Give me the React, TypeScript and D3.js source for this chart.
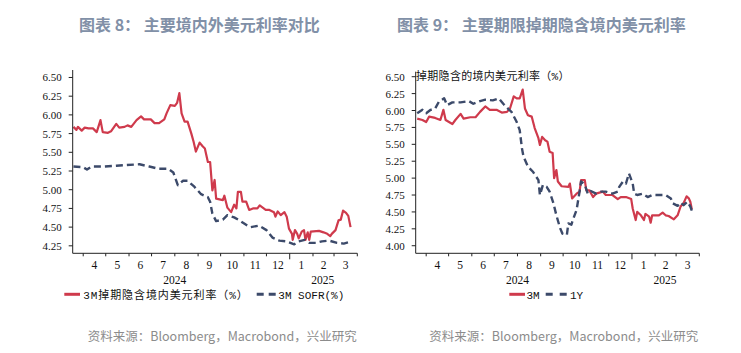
import React from 'react';
import * as d3 from 'd3';

const W = 741;
const H = 353;

const monthLabels = ['4', '5', '6', '7', '8', '9', '10', '11', '12', '1', '2', '3'];
const yearLabels: [string, string][] = [['2024', '2024-08-01'], ['2025', '2025-02-14']];
const leftTicks = [4.25, 4.5, 4.75, 5.0, 5.25, 5.5, 5.75, 6.0, 6.25, 6.5];
const rightTicks = [4.0, 4.25, 4.5, 4.75, 5.0, 5.25, 5.5, 5.75, 6.0, 6.25, 6.5];

// 3M swap-implied onshore USD rate (left chart)
const onshore3M: [string, number][] = [
  ['2024-03-19', 5.84], ['2024-03-23', 5.8], ['2024-03-25', 5.84], ['2024-03-30', 5.79], ['2024-04-03', 5.83],
  ['2024-04-08', 5.82], ['2024-04-14', 5.82], ['2024-04-19', 5.77], ['2024-04-24', 5.93], ['2024-04-27', 5.77],
  ['2024-05-04', 5.76], ['2024-05-08', 5.78], ['2024-05-15', 5.88], ['2024-05-19', 5.83], ['2024-05-26', 5.84],
  ['2024-05-30', 5.86], ['2024-06-04', 5.84], ['2024-06-11', 5.93], ['2024-06-17', 5.98], ['2024-06-21', 5.94],
  ['2024-06-30', 5.94], ['2024-07-05', 5.89], ['2024-07-11', 5.89], ['2024-07-18', 5.94], ['2024-07-21', 6.02],
  ['2024-07-26', 6.13], ['2024-08-01', 6.12], ['2024-08-04', 6.16], ['2024-08-07', 6.29], ['2024-08-10', 6.02],
  ['2024-08-14', 5.91], ['2024-08-18', 5.91], ['2024-08-23', 5.75], ['2024-08-26', 5.64], ['2024-08-29', 5.51],
  ['2024-09-03', 5.63], ['2024-09-07', 5.58], ['2024-09-10', 5.55], ['2024-09-14', 5.37], ['2024-09-17', 5.37],
  ['2024-09-20', 4.99], ['2024-09-23', 5.13], ['2024-09-25', 4.88], ['2024-10-04', 4.86], ['2024-10-06', 4.92],
  ['2024-10-10', 4.76], ['2024-10-15', 4.7], ['2024-10-19', 4.8], ['2024-10-22', 4.75], ['2024-10-24', 4.97],
  ['2024-10-28', 4.97], ['2024-10-30', 4.84], ['2024-11-04', 4.84], ['2024-11-08', 4.73], ['2024-11-13', 4.75],
  ['2024-11-19', 4.75], ['2024-11-22', 4.79], ['2024-11-26', 4.76], ['2024-11-30', 4.73], ['2024-12-05', 4.73],
  ['2024-12-11', 4.7], ['2024-12-13', 4.64], ['2024-12-16', 4.71], ['2024-12-20', 4.66], ['2024-12-25', 4.7],
  ['2024-12-28', 4.64], ['2024-12-31', 4.48], ['2025-01-04', 4.41], ['2025-01-05', 4.33], ['2025-01-08', 4.46],
  ['2025-01-11', 4.41], ['2025-01-13', 4.35], ['2025-01-17', 4.44], ['2025-01-20', 4.46], ['2025-01-22', 4.33],
  ['2025-01-25', 4.43], ['2025-01-27', 4.33], ['2025-01-29', 4.44], ['2025-02-09', 4.45], ['2025-02-15', 4.43],
  ['2025-02-20', 4.41], ['2025-02-24', 4.38], ['2025-02-26', 4.41], ['2025-03-03', 4.46], ['2025-03-07', 4.59],
  ['2025-03-10', 4.6], ['2025-03-13', 4.72], ['2025-03-17', 4.69], ['2025-03-20', 4.65], ['2025-03-23', 4.5],
];

// 3M SOFR (left chart)
const sofr3M: [string, number][] = [
  ['2024-03-19', 5.31], ['2024-04-01', 5.3], ['2024-04-06', 5.27], ['2024-04-12', 5.31], ['2024-04-28', 5.31],
  ['2024-05-15', 5.32], ['2024-05-29', 5.33], ['2024-06-15', 5.34], ['2024-06-28', 5.31], ['2024-07-10', 5.28],
  ['2024-07-23', 5.28], ['2024-07-30', 5.23], ['2024-08-05', 5.06], ['2024-08-12', 5.12], ['2024-08-18', 5.12],
  ['2024-08-27', 5.04], ['2024-09-05', 4.94], ['2024-09-14', 4.9], ['2024-09-17', 4.84], ['2024-09-20', 4.68],
  ['2024-09-25', 4.58], ['2024-10-04', 4.6], ['2024-10-10', 4.66], ['2024-10-19', 4.63], ['2024-10-26', 4.59],
  ['2024-11-04', 4.53], ['2024-11-10', 4.5], ['2024-11-21', 4.52], ['2024-12-01', 4.46], ['2024-12-09', 4.36],
  ['2024-12-18', 4.32], ['2024-12-27', 4.31], ['2025-01-07', 4.27], ['2025-01-13', 4.31], ['2025-01-21', 4.33],
  ['2025-01-27', 4.29], ['2025-02-05', 4.29], ['2025-02-13', 4.31], ['2025-02-22', 4.32], ['2025-03-05', 4.29],
  ['2025-03-14', 4.28], ['2025-03-21', 4.3],
];

// Swap-implied onshore USD rate, 3M (right chart)
const swap3M: [string, number][] = [
  ['2024-03-20', 5.88], ['2024-03-27', 5.86], ['2024-04-01', 5.83], ['2024-04-05', 5.91], ['2024-04-13', 5.89],
  ['2024-04-20', 5.86], ['2024-04-24', 6.01], ['2024-04-27', 5.86], ['2024-05-06', 5.8], ['2024-05-10', 5.86],
  ['2024-05-17', 5.95], ['2024-05-21', 5.88], ['2024-05-30', 5.9], ['2024-06-06', 5.9], ['2024-06-12', 5.98],
  ['2024-06-19', 6.06], ['2024-06-25', 6.01], ['2024-07-04', 6.01], ['2024-07-11', 5.97], ['2024-07-18', 5.98],
  ['2024-07-22', 6.03], ['2024-07-27', 6.21], ['2024-07-31', 6.18], ['2024-08-04', 6.18], ['2024-08-08', 6.31],
  ['2024-08-11', 6.03], ['2024-08-15', 5.93], ['2024-08-20', 5.91], ['2024-08-24', 5.74], ['2024-08-29', 5.59],
  ['2024-08-31', 5.49], ['2024-09-03', 5.61], ['2024-09-07', 5.56], ['2024-09-10', 5.54], ['2024-09-13', 5.39],
  ['2024-09-17', 5.37], ['2024-09-19', 5.0], ['2024-09-22', 5.12], ['2024-09-24', 4.95], ['2024-09-29', 4.88],
  ['2024-10-08', 4.87], ['2024-10-10', 4.92], ['2024-10-13', 4.7], ['2024-10-19', 4.77], ['2024-10-23', 4.8],
  ['2024-10-25', 4.97], ['2024-10-30', 4.97], ['2024-11-01', 4.82], ['2024-11-05', 4.82], ['2024-11-10', 4.72],
  ['2024-11-14', 4.77], ['2024-11-23', 4.8], ['2024-11-27', 4.75], ['2024-12-06', 4.75], ['2024-12-13', 4.69],
  ['2024-12-17', 4.72], ['2024-12-24', 4.72], ['2024-12-31', 4.69], ['2025-01-02', 4.55], ['2025-01-06', 4.38],
  ['2025-01-08', 4.5], ['2025-01-13', 4.45], ['2025-01-17', 4.38], ['2025-01-19', 4.47], ['2025-01-24', 4.43],
  ['2025-01-26', 4.34], ['2025-01-28', 4.45], ['2025-02-06', 4.45], ['2025-02-11', 4.49], ['2025-02-15', 4.45],
  ['2025-02-19', 4.44], ['2025-02-26', 4.39], ['2025-03-03', 4.45], ['2025-03-07', 4.58], ['2025-03-11', 4.63],
  ['2025-03-15', 4.73], ['2025-03-18', 4.7], ['2025-03-20', 4.65], ['2025-03-22', 4.54],
];

// Swap-implied onshore USD rate, 1Y (right chart)
const swap1Y: [string, number][] = [
  ['2024-03-20', 5.96], ['2024-03-27', 6.01], ['2024-04-01', 5.96], ['2024-04-07', 6.01], ['2024-04-13', 6.03],
  ['2024-04-18', 6.13], ['2024-04-25', 6.18], ['2024-04-29', 6.08], ['2024-05-06', 6.12], ['2024-05-17', 6.12],
  ['2024-05-28', 6.14], ['2024-06-03', 6.1], ['2024-06-12', 6.14], ['2024-06-19', 6.16], ['2024-06-29', 6.15],
  ['2024-07-07', 6.18], ['2024-07-13', 6.1], ['2024-07-20', 6.02], ['2024-07-24', 5.98], ['2024-07-31', 5.83],
  ['2024-08-04', 5.71], ['2024-08-07', 5.44], ['2024-08-09', 5.32], ['2024-08-15', 5.17], ['2024-08-22', 5.09],
  ['2024-08-29', 4.97], ['2024-08-31', 4.75], ['2024-09-04', 4.9], ['2024-09-09', 4.87], ['2024-09-13', 4.8],
  ['2024-09-18', 4.63], ['2024-09-22', 4.45], ['2024-09-27', 4.26], ['2024-09-30', 4.18], ['2024-10-06', 4.16],
  ['2024-10-08', 4.33], ['2024-10-12', 4.31], ['2024-10-14', 4.38], ['2024-10-19', 4.53], ['2024-10-23', 4.8],
  ['2024-10-25', 4.95], ['2024-10-30', 4.9], ['2024-11-03', 4.77], ['2024-11-07', 4.81], ['2024-11-14', 4.77],
  ['2024-11-21', 4.8], ['2024-11-27', 4.8], ['2024-12-06', 4.77], ['2024-12-13', 4.8], ['2024-12-15', 4.87],
  ['2024-12-20', 4.95], ['2024-12-24', 4.92], ['2024-12-28', 5.07], ['2025-01-02', 4.92], ['2025-01-04', 4.77],
  ['2025-01-08', 4.75], ['2025-01-15', 4.77], ['2025-01-22', 4.72], ['2025-01-28', 4.75], ['2025-02-06', 4.75],
  ['2025-02-15', 4.75], ['2025-02-22', 4.7], ['2025-02-24', 4.63], ['2025-03-03', 4.59], ['2025-03-07', 4.64],
  ['2025-03-11', 4.6], ['2025-03-16', 4.65], ['2025-03-20', 4.58], ['2025-03-22', 4.52],
];

const RED = '#cf3a4c';
const NAVY = '#3c4a6a';
const TITLE = '#8190a7';
const SERIF = "'Liberation Serif', 'Times New Roman', serif";
const MONO = "'Liberation Mono', 'Noto Sans CJK SC', monospace";
const CJK = "'Noto Sans CJK SC', sans-serif";

const parse = d3.timeParse('%Y-%m-%d');
const domainStart = new Date(2024, 2, 18);
const domainEnd = new Date(2025, 3, 1);

type Series = { data: [string, number][]; color: string; dash?: string; width: number };

type PanelProps = {
  x0: number;
  x1: number;
  yTop: number;
  yBottom: number;
  yDomain: [number, number];
  ticks: number[];
  series: Series[];
};

function Panel({ x0, x1, yTop, yBottom, yDomain, ticks, series }: PanelProps) {
  const x = d3.scaleTime().domain([domainStart, domainEnd]).range([x0, x1]);
  const y = d3.scaleLinear().domain(yDomain).range([yBottom, yTop]);
  const bounds = d3.timeMonth.range(new Date(2024, 3, 1), new Date(2025, 3, 2));
  const line = d3
    .line<[string, number]>()
    .x((d) => x(parse(d[0]) as Date))
    .y((d) => y(d[1]));
  return (
    <g>
      {series.map((s, i) => (
        <path
          key={i}
          d={line(s.data) || ''}
          fill="none"
          stroke={s.color}
          strokeWidth={s.width}
          strokeDasharray={s.dash}
          strokeLinejoin="round"
        />
      ))}
      <line x1={x0} x2={x0} y1={yTop} y2={yBottom} stroke="#222" strokeWidth={1} />
      <line x1={x0} x2={x1} y1={yBottom} y2={yBottom} stroke="#222" strokeWidth={1} />
      {ticks.map((t) => (
        <g key={t}>
          <line x1={x0 - 4} x2={x0} y1={y(t)} y2={y(t)} stroke="#222" />
          <text x={x0 - 11} y={y(t) + 4} textAnchor="end" fontFamily={SERIF} fontSize={11} fill="#111">
            {t.toFixed(2)}
          </text>
        </g>
      ))}
      {bounds.map((b, i) => (
        <line
          key={i}
          x1={x(b)}
          x2={x(b)}
          y1={yBottom}
          y2={yBottom + (b.getMonth() === 0 ? 6 : 3)}
          stroke="#222"
        />
      ))}
      {monthLabels.map((m, i) => {
        const cx = (x(bounds[i]) + x(bounds[i + 1])) / 2;
        return (
          <text key={i} x={cx} y={yBottom + 16} textAnchor="middle" fontFamily={SERIF} fontSize={11.5} fill="#111">
            {m}
          </text>
        );
      })}
      {yearLabels.map(([label, d]) => (
        <text key={label} x={x(parse(d) as Date)} y={yBottom + 31} textAnchor="middle" fontFamily={SERIF} fontSize={11.5} fill="#111">
          {label}
        </text>
      ))}
    </g>
  );
}

export default function App() {
  return (
    <svg
      width={W}
      height={H}
      viewBox={`0 0 ${W} ${H}`}
      style={{ position: 'absolute', left: 0, top: 0, background: '#fff' }}
    >
      <rect width={W} height={H} fill="#fff" />
      <text x={79} y={31} fontFamily={CJK} fontWeight={700} fontSize={16} fill={TITLE}>
        图表 8：&#160;主要境内外美元利率对比
      </text>
      <text x={397} y={31} fontFamily={CJK} fontWeight={700} fontSize={16} fill={TITLE}>
        图表 9：&#160;主要期限掉期隐含境内美元利率
      </text>

      <Panel
        x0={72.7}
        x1={357.3}
        yTop={70}
        yBottom={253.3}
        yDomain={[4.15, 6.6]}
        ticks={leftTicks}
        series={[
          { data: onshore3M, color: RED, width: 2.2 },
          { data: sofr3M, color: NAVY, width: 2.4, dash: '7,4' },
        ]}
      />
      <Panel
        x0={415.7}
        x1={699.3}
        yTop={71.7}
        yBottom={253.3}
        yDomain={[3.888, 6.574]}
        ticks={rightTicks}
        series={[
          { data: swap3M, color: RED, width: 2.2 },
          { data: swap1Y, color: NAVY, width: 2.4, dash: '7,4' },
        ]}
      />

      <text x={416} y={79.5} fontFamily={MONO} fontSize={11} letterSpacing={0.3} fill="#111">
        掉期隐含的境内美元利率（%）
      </text>

      {/* left legend */}
      <line x1={64.3} x2={80} y1={294.3} y2={294.3} stroke={RED} strokeWidth={3} />
      <text x={83.3} y={298.5} fontFamily={MONO} fontSize={11} letterSpacing={0.9} fill="#111">
        3M掉期隐含境内美元利率（%）
      </text>
      <line x1={256.7} x2={276} y1={294.3} y2={294.3} stroke={NAVY} strokeWidth={3} strokeDasharray="7,5" />
      <text x={278.3} y={298.5} fontFamily={MONO} fontSize={11} fill="#111">
        3M SOFR(%)
      </text>

      {/* right legend */}
      <line x1={509.3} x2={525} y1={294.3} y2={294.3} stroke={RED} strokeWidth={3} />
      <text x={526.5} y={298.5} fontFamily={MONO} fontSize={11} fill="#111">
        3M
      </text>
      <line x1={545.7} x2={566.7} y1={294.3} y2={294.3} stroke={NAVY} strokeWidth={3} strokeDasharray="7,7" />
      <text x={570} y={298.5} fontFamily={MONO} fontSize={11} fill="#111">
        1Y
      </text>

      <text x={356.7} y={340.5} textAnchor="end" fontFamily={CJK} fontSize={12.5} fill="#8c8c8c">
        资料来源：Bloomberg，Macrobond，兴业研究
      </text>
      <text x={698.3} y={340.5} textAnchor="end" fontFamily={CJK} fontSize={12.5} fill="#8c8c8c">
        资料来源：Bloomberg，Macrobond，兴业研究
      </text>
    </svg>
  );
}
